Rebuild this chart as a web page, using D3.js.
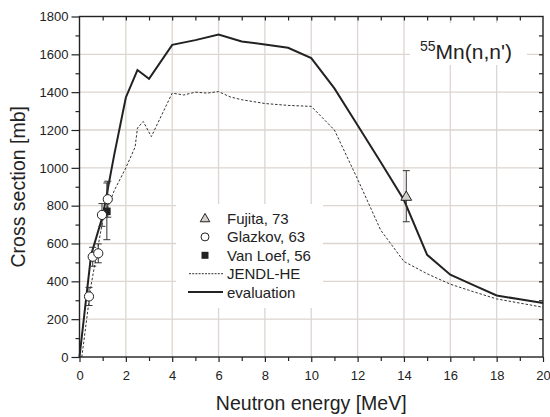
<!DOCTYPE html>
<html>
<head>
<meta charset="utf-8">
<script src="https://cdn.jsdelivr.net/npm/d3@7"></script>
<style>
  body { margin: 0; background: #fff; }
  text { font-family: "Liberation Sans", Arial, sans-serif; fill: #222; }
</style>
</head>
<body>
<div id="chart"></div>
<script>
// evaluation curve
var evalE = [0, 0.5, 1.0, 1.5, 2, 2.5, 3, 4, 5, 6, 7, 8, 9, 10, 11, 12, 13, 14, 15, 16, 17, 18, 19, 20];
var evalS = [0, 540, 745, 1070, 1372, 1517, 1471, 1650, 1675, 1705, 1668, 1652, 1635, 1580, 1420, 1225, 1030, 830, 540, 435, 380, 325, 305, 285];

// JENDL-HE
var jendlE = [0.1, 0.5, 1.0, 1.5, 2, 2.4, 2.5, 2.75, 3.1, 4, 4.5, 5, 5.5, 6, 6.5, 7, 8, 9, 10, 11, 12, 13, 14, 15, 16, 17, 18, 19, 20];
var jendlS = [0, 380, 720, 880, 1000, 1110, 1210, 1245, 1165, 1395, 1385, 1400, 1395, 1403, 1375, 1360, 1340, 1330, 1325, 1200, 940, 670, 505, 440, 385, 345, 307, 285, 263];

// experimental data
var fujitaE = [14.1], fujitaS = [850], fujitaErr = [135];
var glazkovE = [0.41, 0.57, 0.81, 0.97, 1.22];
var glazkovS = [320, 530, 548, 751, 834];
var glazkovErr = [48, 50, 50, 60, 95];
var vanLoefE = [1.18], vanLoefS = [770], vanLoefErr = [150];

var xTicks = [0, 2, 4, 6, 8, 10, 12, 14, 16, 18, 20];
var yTicks = [0, 200, 400, 600, 800, 1000, 1200, 1400, 1600, 1800];
var legendLabels = ["Fujita, 73", "Glazkov, 63", "Van Loef, 56", "JENDL-HE", "evaluation"];

var width = 550, height = 417;
var plotL = 79.5, plotR = 543, plotT = 16.5, plotB = 357;

var x = d3.scaleLinear().domain([0, 20]).range([plotL, plotR]);
var y = d3.scaleLinear().domain([0, 1800]).range([plotB, plotT]);

var svg = d3.select("#chart").append("svg")
  .attr("width", width)
  .attr("height", height);

var gridColor = "#ddd5d1";
var ink = "#222";

// grid
svg.append("g").selectAll("line").data(xTicks.slice(1, -1)).enter().append("line")
  .attr("x1", d => x(d)).attr("x2", d => x(d))
  .attr("y1", plotT).attr("y2", plotB)
  .attr("stroke", gridColor).attr("stroke-width", 1.3);
svg.append("g").selectAll("line").data(yTicks.slice(1, -1)).enter().append("line")
  .attr("x1", plotL).attr("x2", plotR)
  .attr("y1", d => y(d)).attr("y2", d => y(d))
  .attr("stroke", gridColor).attr("stroke-width", 1.3);

// title box
svg.append("rect").attr("x", 410).attr("y", 23).attr("width", 117).attr("height", 42).attr("fill", "#fff");
var title = svg.append("text").attr("x", 420).attr("y", 59).style("font-size", "21px");
title.append("tspan").text("55").style("font-size", "14px").attr("dy", "-8");
title.append("tspan").text("Mn(n,n')").attr("dy", "8");

// legend box
svg.append("rect").attr("x", 176).attr("y", 204).attr("width", 147).attr("height", 104).attr("fill", "#fff");

// curves
var lineOf = (es, ss) => d3.line().x((d, i) => x(es[i])).y((d, i) => y(ss[i]))(es);

svg.append("path").attr("d", lineOf(jendlE, jendlS))
  .attr("fill", "none").attr("stroke", "#333").attr("stroke-width", 1)
  .attr("stroke-dasharray", "2.5,1.8");
svg.append("path").attr("d", lineOf(evalE, evalS))
  .attr("fill", "none").attr("stroke", ink).attr("stroke-width", 2);

// error bars
function errorBars(es, ss, errs) {
  var g = svg.append("g").attr("stroke", "#333").attr("stroke-width", 1);
  es.forEach(function(e, i) {
    var cx = x(e), y1 = y(ss[i] - errs[i]), y2 = y(ss[i] + errs[i]);
    g.append("line").attr("x1", cx).attr("x2", cx).attr("y1", y1).attr("y2", y2);
    g.append("line").attr("x1", cx - 3.5).attr("x2", cx + 3.5).attr("y1", y1).attr("y2", y1);
    g.append("line").attr("x1", cx - 3.5).attr("x2", cx + 3.5).attr("y1", y2).attr("y2", y2);
  });
}
errorBars(glazkovE, glazkovS, glazkovErr);
errorBars(vanLoefE, vanLoefS, vanLoefErr);
errorBars(fujitaE, fujitaS, fujitaErr);

var tri = d3.symbol().type(d3.symbolTriangle).size(50);
var triSmall = d3.symbol().type(d3.symbolTriangle).size(40);

svg.append("g").selectAll("path").data(fujitaE).enter().append("path")
  .attr("d", tri)
  .attr("transform", (d, i) => "translate(" + x(d) + "," + (y(fujitaS[i]) + 1) + ")")
  .attr("fill", "#d4d0cc").attr("stroke", ink).attr("stroke-width", 1);

svg.append("g").selectAll("rect").data(vanLoefE).enter().append("rect")
  .attr("x", d => x(d) - 3.8).attr("y", (d, i) => y(vanLoefS[i]) - 3.8)
  .attr("width", 7.6).attr("height", 7.6).attr("fill", ink);

svg.append("g").selectAll("circle").data(glazkovE).enter().append("circle")
  .attr("cx", d => x(d)).attr("cy", (d, i) => y(glazkovS[i]))
  .attr("r", 4.6).attr("fill", "#fff").attr("stroke", ink).attr("stroke-width", 1);

// frame and axes
svg.append("rect").attr("x", plotL).attr("y", plotT).attr("width", plotR - plotL).attr("height", plotB - plotT)
  .attr("fill", "none").attr("stroke", ink).attr("stroke-width", 1.4);

svg.append("g").attr("transform", "translate(0," + plotB + ")")
  .call(d3.axisBottom(x).tickValues(xTicks).tickSize(5).tickPadding(9).tickFormat(d3.format("d")));
svg.append("g").attr("transform", "translate(0," + plotB + ")")
  .call(d3.axisBottom(x).tickValues(d3.range(1, 20, 2)).tickSize(4).tickFormat(""));
svg.append("g").attr("transform", "translate(" + plotL + ",0)")
  .call(d3.axisLeft(y).tickValues(yTicks).tickSize(8).tickPadding(3).tickFormat(d3.format("d")));
svg.append("g").attr("transform", "translate(" + plotL + ",0)")
  .call(d3.axisLeft(y).tickValues(d3.range(100, 1800, 200)).tickSize(4).tickFormat(""));
// inward ticks on top and right
svg.append("g").attr("transform", "translate(0," + plotT + ")")
  .call(d3.axisBottom(x).tickValues(d3.range(1, 20, 1)).tickSize(4).tickFormat(""));
svg.append("g").attr("transform", "translate(" + plotR + ",0)")
  .call(d3.axisLeft(y).tickValues(d3.range(100, 1800, 100)).tickSize(4).tickFormat(""));

svg.selectAll(".domain").remove();
svg.selectAll(".tick line").attr("stroke", ink).attr("stroke-width", 1.2);
svg.selectAll(".tick text").style("font-size", "13px").attr("fill", "#3a3a3a")
  .style("font-family", "'Liberation Sans', Arial, sans-serif");

// axis titles
svg.append("text").attr("x", (plotL + plotR) / 2).attr("y", 410)
  .attr("text-anchor", "middle").style("font-size", "19.5px").attr("fill", "#333")
  .text("Neutron energy [MeV]");
svg.append("text").attr("transform", "translate(25," + ((plotT + plotB) / 2) + ") rotate(-90)")
  .attr("text-anchor", "middle").style("font-size", "19.5px").attr("fill", "#333")
  .text("Cross section [mb]");

// legend
var lx = 205, ly0 = 218.5, step = 18.4;
var legend = svg.append("g");
legend.append("path").attr("d", triSmall).attr("transform", "translate(" + lx + "," + (ly0 + 0.5) + ")")
  .attr("fill", "#d4d0cc").attr("stroke", ink).attr("stroke-width", 1);
legend.append("circle").attr("cx", lx).attr("cy", ly0 + step).attr("r", 4)
  .attr("fill", "#fff").attr("stroke", ink).attr("stroke-width", 1);
legend.append("rect").attr("x", lx - 3.5).attr("y", ly0 + 2 * step - 3.5).attr("width", 7).attr("height", 7).attr("fill", ink);
legend.append("line").attr("x1", 189).attr("x2", 223).attr("y1", ly0 + 3 * step).attr("y2", ly0 + 3 * step)
  .attr("stroke", "#333").attr("stroke-width", 1).attr("stroke-dasharray", "2,1.2");
legend.append("line").attr("x1", 188).attr("x2", 223).attr("y1", ly0 + 4 * step).attr("y2", ly0 + 4 * step)
  .attr("stroke", ink).attr("stroke-width", 2);
legend.selectAll("text").data(legendLabels).enter().append("text")
  .attr("x", 227).attr("y", (d, i) => ly0 + i * step + 5.5)
  .style("font-size", "15px").attr("fill", "#333")
  .text(d => d);
</script>
</body>
</html>
